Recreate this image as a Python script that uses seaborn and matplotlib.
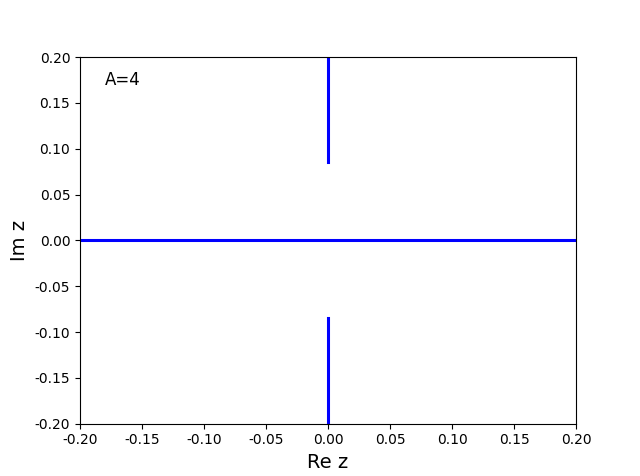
import matplotlib
matplotlib.use("Agg")
import matplotlib.pyplot as plt
import seaborn as sns
import numpy as np

# Branch data (real part, imaginary part)
real_axis_x = [-0.2, 0.2]
real_axis_y = [0.0, 0.0]
upper_x = [0.0, 0.0]
upper_y = [0.085, 0.2]
lower_x = [0.0, 0.0]
lower_y = [-0.2, -0.085]
tick_values = [-0.2, -0.15, -0.1, -0.05, 0.0, 0.05, 0.1, 0.15, 0.2]
tick_labels = ["-0.20", "-0.15", "-0.10", "-0.05", "0.00", "0.05", "0.10", "0.15", "0.20"]
label_text = "A=4"

plt.rcParams['font.family'] = ['DejaVu Sans']
fig, ax = plt.subplots(figsize=(6.4, 4.76), dpi=100)

for xs, ys in [(real_axis_x, real_axis_y), (upper_x, upper_y), (lower_x, lower_y)]:
    sns.lineplot(x=xs, y=ys, ax=ax, color='#0000ff', linewidth=2.2, sort=False, estimator=None)

ax.set_xlim(-0.2, 0.2)
ax.set_ylim(-0.2, 0.2)
ax.set_xticks(tick_values)
ax.set_yticks(tick_values)
ax.set_xticklabels(tick_labels)
ax.set_yticklabels(tick_labels)
ax.set_xlabel("Re z", fontsize=14)
ax.set_ylabel("Im z", fontsize=14)
ax.text(0.05, 0.937, label_text, transform=ax.transAxes, fontsize=12, va='center', ha='left')

fig.savefig("out.png", dpi=100)
